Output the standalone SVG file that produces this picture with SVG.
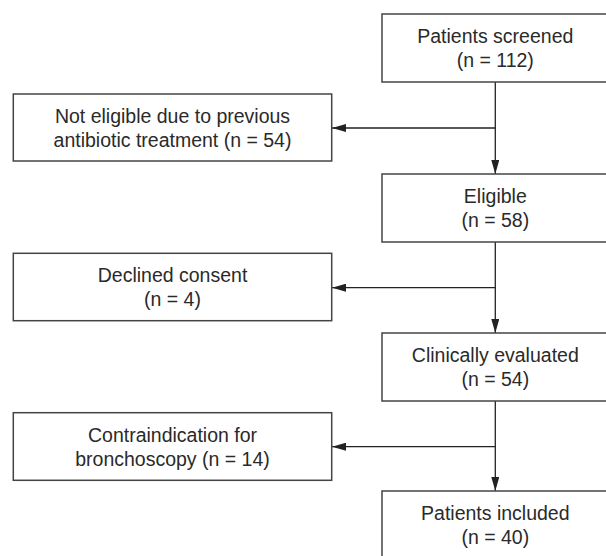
<svg xmlns="http://www.w3.org/2000/svg" width="606" height="556" viewBox="0 0 606 556">
<style>
.box{fill:#fff;stroke:#444;stroke-width:1.5}
.lbl{font-family:"Liberation Sans",Arial,sans-serif;font-size:19.5px;fill:#2a2a2a;text-anchor:middle}
.con{fill:none;stroke:#222;stroke-width:1.3}
</style>
<defs>
<marker id="ah" markerUnits="userSpaceOnUse" markerWidth="14" markerHeight="8" refX="14" refY="4" orient="auto">
<path d="M0,0 L14,4 L0,8 Z" fill="#222"/>
</marker>
</defs>
<rect width="606" height="556" fill="#fff"/>
<g id="connectors">
<line class="con" x1="495.3" y1="82" x2="495.3" y2="174" marker-end="url(#ah)"/>
<line class="con" x1="495.3" y1="128" x2="332" y2="128" marker-end="url(#ah)"/>
<line class="con" x1="495.3" y1="242" x2="495.3" y2="333" marker-end="url(#ah)"/>
<line class="con" x1="495.3" y1="287.7" x2="332" y2="287.7" marker-end="url(#ah)"/>
<line class="con" x1="495.3" y1="401" x2="495.3" y2="491" marker-end="url(#ah)"/>
<line class="con" x1="495.3" y1="446.7" x2="332" y2="446.7" marker-end="url(#ah)"/>
</g>
<g id="screened">
<rect class="box" x="382" y="14" width="228" height="68"/>
<text class="lbl" x="495.3" y="43.3">Patients screened</text>
<text class="lbl" x="495.3" y="67.3">(n = 112)</text>
</g>
<g id="not-eligible">
<rect class="box" x="13.3" y="94" width="318.4" height="67"/>
<text class="lbl" x="172.5" y="123.3">Not eligible due to previous</text>
<text class="lbl" x="172.5" y="147.3">antibiotic treatment (n = 54)</text>
</g>
<g id="eligible">
<rect class="box" x="382" y="174" width="228" height="68"/>
<text class="lbl" x="495.3" y="203.3">Eligible</text>
<text class="lbl" x="495.3" y="227.3">(n = 58)</text>
</g>
<g id="declined">
<rect class="box" x="13.3" y="253.3" width="318.4" height="67.4"/>
<text class="lbl" x="172.5" y="282.3">Declined consent</text>
<text class="lbl" x="172.5" y="306.3">(n = 4)</text>
</g>
<g id="evaluated">
<rect class="box" x="382" y="333" width="228" height="68"/>
<text class="lbl" x="495.3" y="362.3">Clinically evaluated</text>
<text class="lbl" x="495.3" y="386.3">(n = 54)</text>
</g>
<g id="contraindication">
<rect class="box" x="13.3" y="412.7" width="318.4" height="67.6"/>
<text class="lbl" x="172.5" y="442">Contraindication for</text>
<text class="lbl" x="172.5" y="466">bronchoscopy (n = 14)</text>
</g>
<g id="included">
<rect class="box" x="382" y="491" width="228" height="70"/>
<text class="lbl" x="495.3" y="520.3">Patients included</text>
<text class="lbl" x="495.3" y="544.3">(n = 40)</text>
</g>
</svg>
